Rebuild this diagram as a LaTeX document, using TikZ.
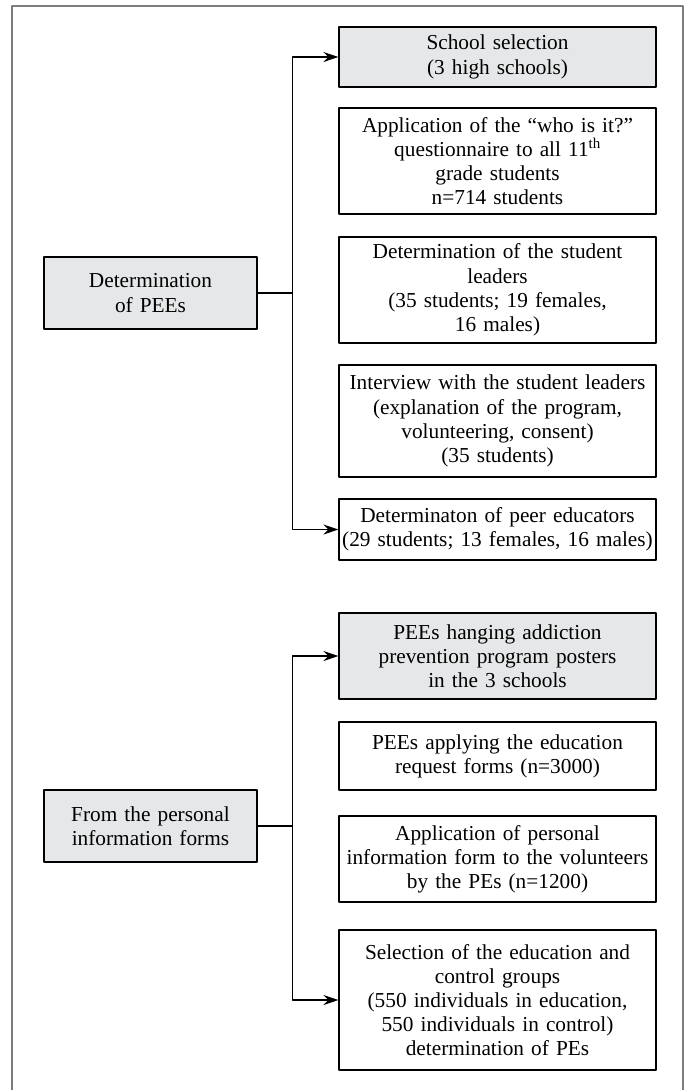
\documentclass[tikz,border=0pt]{standalone}
\usepackage{fontspec}
\setmainfont{Liberation Serif}
\usetikzlibrary{arrows.meta}
\definecolor{boxgray}{RGB}{230,231,232}
\definecolor{framegray}{RGB}{125,125,125}
\tikzset{
	stagebox/.style={draw, line width=1.1pt, inner sep=0pt, align=center, text width=317pt, minimum width=317pt},
	groupbox/.style={stagebox, fill=boxgray, text width=213pt, minimum width=213pt},
	link/.style={line width=1.1pt},
	tip/.style={link, -{Stealth[length=15pt,width=10pt]}}
}
\begin{document}
\begin{tikzpicture}[x=1pt, y=-1pt, font=\fontsize{21.3}{24.2}\selectfont, line join=round]
	\useasboundingbox (0,0) rectangle (691,1090);
	\draw[framegray, line width=2pt] (12,1100) |- (683,6) -- (683,1100);
	% first stage
	\node[groupbox, minimum height=72pt] (grpA) at (150.5,293) {Determination\\of PEEs};
	\node[stagebox, fill=boxgray, minimum height=60pt] (sel) at (497.5,57) {School selection\\(3 high schools)};
	\node[stagebox, minimum height=106pt] (quest) at (497.5,161) {Application of the “who is it?”\\questionnaire to all 11\textsuperscript{th}\\grade students\\n=714 students};
	\node[stagebox, minimum height=106pt] (lead) at (497.5,290) {Determination of the student\\leaders\\(35 students; 19 females,\\16 males)};
	\node[stagebox, minimum height=112pt] (intv) at (497.5,421) {Interview with the student leaders\\(explanation of the program,\\volunteering, consent)\\(35 students)};
	\node[stagebox, minimum height=61pt] (peer) at (497.5,529.5) {Determinaton of peer educators\\(29 students; 13 females, 16 males)};
	\coordinate (ja) at ([xshift=35pt]grpA.east);
	\draw[link] (grpA.east) -- (ja);
	\draw[tip] (ja) |- (sel.west);
	\draw[tip] (ja) |- (peer.west);
	% second stage
	\node[groupbox, minimum height=72pt] (grpB) at (150.5,826) {From the personal\\information forms};
	\node[stagebox, fill=boxgray, minimum height=86pt] (post) at (497.5,656) {PEEs hanging addiction\\prevention program posters\\in the 3 schools};
	\node[stagebox, minimum height=68pt] (req) at (497.5,756) {PEEs applying the education\\request forms (n=3000)};
	\node[stagebox, minimum height=86pt] (form) at (497.5,859) {Application of personal\\information form to the volunteers\\by the PEs (n=1200)};
	\node[stagebox, minimum height=140pt] (grp) at (497.5,1000) {Selection of the education and\\control groups\\(550 individuals in education,\\550 individuals in control)\\determination of PEs};
	\coordinate (jb) at ([xshift=35pt]grpB.east);
	\draw[link] (grpB.east) -- (jb);
	\draw[tip] (jb) |- (post.west);
	\draw[tip] (jb) |- (grp.west);
\end{tikzpicture}
\end{document}
